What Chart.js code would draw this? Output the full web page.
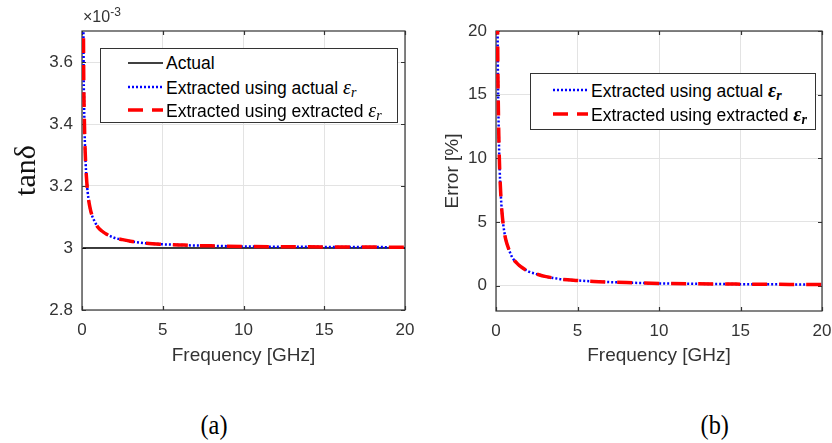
<!DOCTYPE html>
<html>
<head>
<meta charset="utf-8">
<title>Loss tangent extraction</title>
<script src="https://cdn.jsdelivr.net/npm/chart.js@4/dist/chart.umd.min.js"></script>
<style>
  html, body { margin: 0; padding: 0; background: #fff; }
  body { position: relative; width: 832px; height: 443px; overflow: hidden;
         font-family: "Liberation Sans", Arial, sans-serif; color: #000; }
  .panel { position: absolute; top: 0; width: 416px; height: 380px; }
  .panel canvas { display: block; }
  .legend { position: absolute; background: #fff; border: 1px solid #333; box-sizing: border-box; }
  .row { position: absolute; height: 22px; line-height: 22px; font-size: 17.5px; white-space: nowrap; }
  .row svg { position: absolute; top: 8px; }
  .eps { font-family: "Liberation Serif", "Times New Roman", serif; font-style: italic; font-size: 20px; }
  .eps sub { font-size: 14px; vertical-align: -3px; }
  .bold { font-weight: bold; }
  .exp { position: absolute; left: 83px; top: 5px; font-size: 16px; color: #333; }
  .exp sup { font-size: 12px; vertical-align: 6px; }
  .cap { position: absolute; top: 410px; font-family: "Liberation Serif", "Times New Roman", serif;
         font-size: 27px; color: #000; transform: scaleX(0.9); }
</style>
</head>
<body>

<div class="panel" style="left:0"><canvas id="tanChart" width="416" height="380"></canvas></div>
<div class="panel" style="left:416px"><canvas id="errChart" width="416" height="380"></canvas></div>

<div class="exp">&times;10<sup>-3</sup></div>

<div class="legend" style="left:100px; top:48px; width:298px; height:75px;">
  <div class="row" style="left:0; top:3px;">
    <svg width="36" height="6" style="left:27px"><line x1="0" y1="3" x2="35" y2="3" stroke="#000" stroke-width="1.5"/></svg>
    <span style="position:absolute; left:65px">Actual</span>
  </div>
  <div class="row" style="left:0; top:27px;">
    <svg width="36" height="6" style="left:27px"><line x1="0" y1="3" x2="35" y2="3" stroke="#0000ff" stroke-width="2.5" stroke-dasharray="2 2"/></svg>
    <span style="position:absolute; left:65px">Extracted using actual <span class="eps">&epsilon;<sub>r</sub></span></span>
  </div>
  <div class="row" style="left:0; top:50px;">
    <svg width="36" height="6" style="left:27px"><line x1="0" y1="3" x2="35" y2="3" stroke="#ff0000" stroke-width="3.5" stroke-dasharray="15 9"/></svg>
    <span style="position:absolute; left:65px">Extracted using extracted <span class="eps">&epsilon;<sub>r</sub></span></span>
  </div>
</div>

<div class="legend" style="left:530px; top:73px; width:286px; height:57px;">
  <div class="row" style="left:0; top:5px;">
    <svg width="36" height="6" style="left:22px"><line x1="0" y1="3" x2="35" y2="3" stroke="#0000ff" stroke-width="2.5" stroke-dasharray="2 2"/></svg>
    <span style="position:absolute; left:60px">Extracted using actual <span class="eps bold">&epsilon;<sub>r</sub></span></span>
  </div>
  <div class="row" style="left:0; top:29px;">
    <svg width="36" height="6" style="left:22px"><line x1="0" y1="3" x2="35" y2="3" stroke="#ff0000" stroke-width="3.5" stroke-dasharray="15 9"/></svg>
    <span style="position:absolute; left:60px">Extracted using extracted <span class="eps bold">&epsilon;<sub>r</sub></span></span>
  </div>
</div>

<div class="cap" style="left:199px">(a)</div>
<div class="cap" style="left:699px">(b)</div>

<script>
// Frequency sweep [GHz]
const freqGHz = [0.05, 0.1, 0.15, 0.2, 0.3, 0.4, 0.5, 0.6, 0.8, 1.0, 1.25, 1.5, 2, 2.5, 3, 3.5, 4, 5, 6, 7, 8, 10, 12, 14, 16, 18, 20];

// Loss tangent (x 1e-3): reference value and the two extractions
const tanActual = [3, 3, 3, 3, 3, 3, 3, 3, 3, 3, 3, 3, 3, 3, 3, 3, 3, 3, 3, 3, 3, 3, 3, 3, 3, 3, 3];
const tanUsingActualEr = [4.2, 3.6, 3.405, 3.306, 3.21, 3.159, 3.129, 3.108, 3.084, 3.066, 3.054, 3.045, 3.033, 3.027, 3.022, 3.018, 3.015, 3.012, 3.010, 3.008, 3.007, 3.005, 3.004, 3.004, 3.003, 3.003, 3.002];
const tanUsingExtractedEr = [4.2, 3.6, 3.405, 3.306, 3.21, 3.159, 3.129, 3.108, 3.084, 3.066, 3.054, 3.045, 3.033, 3.027, 3.022, 3.018, 3.015, 3.012, 3.010, 3.008, 3.007, 3.005, 3.004, 3.004, 3.003, 3.003, 3.002];

// Relative error of the extracted loss tangent [%]
const errUsingActualEr = [40, 20, 13.5, 10.2, 7.0, 5.3, 4.3, 3.6, 2.8, 2.2, 1.8, 1.5, 1.1, 0.9, 0.72, 0.6, 0.5, 0.4, 0.32, 0.27, 0.23, 0.17, 0.14, 0.12, 0.10, 0.09, 0.08];
const errUsingExtractedEr = [40, 20, 13.5, 10.2, 7.0, 5.3, 4.3, 3.6, 2.8, 2.2, 1.8, 1.5, 1.1, 0.9, 0.72, 0.6, 0.5, 0.4, 0.32, 0.27, 0.23, 0.17, 0.14, 0.12, 0.10, 0.09, 0.08];

// Axis tick values
const freqTicks = [0, 5, 10, 15, 20];
const tanTicks = [2.8, 3.0, 3.2, 3.4, 3.6];
const errTicks = [0, 5, 10, 15, 20];

const AXIS_COLOR = '#333333';
const GRID_COLOR = '#e3e3e3';
const TICK_FONT = { family: '"Liberation Sans", Arial, sans-serif', size: 17 };

const pairs = (xs, ys) => xs.map((x, i) => ({ x, y: ys[i] }));

// Boxed axes with short inward tick marks on all four sides
const boxFrame = {
  id: 'boxFrame',
  beforeDatasetsDraw(chart) {
    const { ctx, chartArea: a, scales } = chart;
    ctx.save();
    ctx.strokeStyle = AXIS_COLOR;
    ctx.lineWidth = 1.2;
    ctx.strokeRect(a.left, a.top, a.right - a.left, a.bottom - a.top);
    ctx.beginPath();
    const len = 4;
    scales.x.ticks.forEach(t => {
      const px = Math.round(scales.x.getPixelForValue(t.value)) + 0.5;
      ctx.moveTo(px, a.bottom); ctx.lineTo(px, a.bottom - len);
      ctx.moveTo(px, a.top); ctx.lineTo(px, a.top + len);
    });
    scales.y.ticks.forEach(t => {
      const py = Math.round(scales.y.getPixelForValue(t.value)) + 0.5;
      ctx.moveTo(a.left, py); ctx.lineTo(a.left + len, py);
      ctx.moveTo(a.right, py); ctx.lineTo(a.right - len, py);
    });
    ctx.stroke();
    ctx.restore();
  }
};

function fixedTicks(values) {
  return scale => { scale.ticks = values.map(v => ({ value: v })); };
}

function xScale(height) {
  return {
    type: 'linear', min: 0, max: 20,
    afterBuildTicks: fixedTicks(freqTicks),
    afterFit: s => { s.height = height; s.paddingLeft = 0; s.paddingRight = 0; },
    grid: { color: GRID_COLOR, drawTicks: false },
    border: { display: false },
    ticks: { color: AXIS_COLOR, font: TICK_FONT, padding: 10, maxRotation: 0 },
    title: { display: true, text: 'Frequency [GHz]', color: AXIS_COLOR,
             font: { family: '"Liberation Sans", Arial, sans-serif', size: 19 },
             padding: { top: 0, bottom: 13 } }
  };
}

const common = {
  responsive: false,
  devicePixelRatio: 1,
  animation: false,
  events: [],
  plugins: { legend: { display: false }, tooltip: { enabled: false } },
  elements: { point: { radius: 0 } }
};

const RED_DASH = [15, 12];
const BLUE_DOT = [2, 2];

new Chart(document.getElementById('tanChart'), {
  type: 'line',
  data: {
    datasets: [
      { label: 'Extracted using extracted εr', data: pairs(freqGHz, tanUsingExtractedEr),
        borderColor: '#ff0000', borderWidth: 3.5, borderDash: RED_DASH, cubicInterpolationMode: 'monotone', order: 0 },
      { label: 'Extracted using actual εr', data: pairs(freqGHz, tanUsingActualEr),
        borderColor: '#0000ff', borderWidth: 2.5, borderDash: BLUE_DOT, cubicInterpolationMode: 'monotone', order: 1 },
      { label: 'Actual', data: pairs(freqGHz, tanActual),
        borderColor: '#000000', borderWidth: 1.5, order: 2 }
    ]
  },
  options: {
    ...common,
    layout: { autoPadding: false, padding: { left: 0, top: 31, right: 11, bottom: 0 } },
    scales: {
      x: xScale(70),
      y: {
        type: 'linear', min: 2.8, max: 3.7,
        afterBuildTicks: fixedTicks(tanTicks),
        afterFit: s => { s.width = 82; s.paddingTop = 0; s.paddingBottom = 0; },
        grid: { color: GRID_COLOR, drawTicks: false },
        border: { display: false },
        ticks: { color: AXIS_COLOR, font: TICK_FONT, padding: 9,
                 callback: v => String(Number(v.toFixed(1))) },
        title: { display: true, text: 'tanδ', color: '#111',
                 font: { family: '"Liberation Serif", "Times New Roman", serif', size: 30, lineHeight: 1 },
                 padding: { top: 12, bottom: 0 } }
      }
    }
  },
  plugins: [boxFrame]
});

new Chart(document.getElementById('errChart'), {
  type: 'line',
  data: {
    datasets: [
      { label: 'Extracted using extracted εr', data: pairs(freqGHz, errUsingExtractedEr),
        borderColor: '#ff0000', borderWidth: 3.5, borderDash: RED_DASH, cubicInterpolationMode: 'monotone', order: 0 },
      { label: 'Extracted using actual εr', data: pairs(freqGHz, errUsingActualEr),
        borderColor: '#0000ff', borderWidth: 2.5, borderDash: BLUE_DOT, cubicInterpolationMode: 'monotone', order: 1 }
    ]
  },
  options: {
    ...common,
    layout: { autoPadding: false, padding: { left: 0, top: 31, right: 10, bottom: 0 } },
    scales: {
      x: xScale(69),
      y: {
        type: 'linear', min: -2, max: 20,
        afterBuildTicks: fixedTicks(errTicks),
        afterFit: s => { s.width = 80; s.paddingTop = 0; s.paddingBottom = 0; },
        grid: { color: GRID_COLOR, drawTicks: false },
        border: { display: false },
        ticks: { color: AXIS_COLOR, font: TICK_FONT, padding: 9 },
        title: { display: true, text: 'Error [%]', color: AXIS_COLOR,
                 font: { family: '"Liberation Sans", Arial, sans-serif', size: 19, lineHeight: 1.2 },
                 padding: { top: 25, bottom: 0 } }
      }
    }
  },
  plugins: [boxFrame]
});
</script>
</body>
</html>
